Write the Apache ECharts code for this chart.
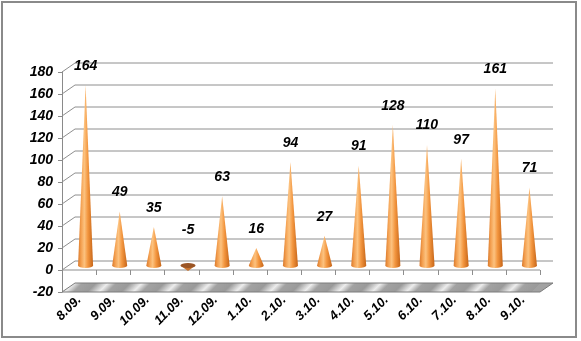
<!DOCTYPE html>
<html>
<head>
<meta charset="utf-8">
<script src="https://cdn.jsdelivr.net/npm/echarts@6/dist/echarts.min.js"></script>
<style>
  html, body { margin: 0; padding: 0; background: #ffffff; }
  #chart { width: 581px; height: 341px; }
</style>
</head>
<body>
<div id="chart"></div>
<script>
// Daily figures, one cone per date
const categories = ['8.09.', '9.09.', '10.09.', '11.09.', '12.09.', '1.10.', '2.10.',
                    '3.10.', '4.10.', '5.10.', '6.10.', '7.10.', '8.10.', '9.10.'];
const values = [164, 49, 35, -5, 63, 16, 94, 27, 91, 128, 110, 97, 161, 71];
const yTicks = [-20, 0, 20, 40, 60, 80, 100, 120, 140, 160, 180];

// Depth of the pseudo-3D box (back wall sits up and to the right of the front plane)
const DX = 13, DY = -9;
const LABEL_FONT = { fontStyle: 'italic', fontWeight: 'bold', fontFamily: 'Arial, "Liberation Sans", sans-serif' };

const chart = echarts.init(document.getElementById('chart'), null, { renderer: 'canvas' });

// Walls, floor and front baseline, one item per y tick
function renderWalls(params, api) {
  const v = api.value(1);
  const cs = params.coordSys;
  const x0 = cs.x, x1 = cs.x + cs.width;
  const y = api.coord([0, v])[1];
  const children = [];
  if (v === yTicks[0]) {
    // floor with diagonal sheen
    const stops = [];
    const n = categories.length;
    const step = 1 / n; // along the 45° gradient
    for (let k = 0; k <= n; k++) {
      const t = k * step;
      stops.push({ offset: Math.min(1, t), color: '#9a9a9a' });
      stops.push({ offset: Math.min(1, t + step * 0.35), color: '#ededed' });
      stops.push({ offset: Math.min(1, t + step * 0.6), color: '#a2a2a2' });
    }
    children.push({
      type: 'polygon',
      shape: { points: [[x0, y], [x1, y], [x1 + DX, y + DY], [x0 + DX, y + DY]] },
      style: {
        fill: {
          type: 'linear', global: true,
          x: x0, y: y + DY, x2: x0 + cs.width / 2, y2: y + DY + cs.width / 2,
          colorStops: stops
        },
        stroke: '#7c7c7c', lineWidth: 1
      }
    });
    return { type: 'group', children };
  }
  children.push({
    type: 'polyline',
    shape: { points: [[x0, y], [x0 + DX, y + DY], [x1 + DX, y + DY]] },
    style: { stroke: '#8e8e8e', lineWidth: 1, fill: null }
  });
  if (v === 0) {
    children.push({
      type: 'line',
      shape: { x1: x0, y1: y, x2: x1, y2: y },
      style: { stroke: '#8e8e8e', lineWidth: 1 }
    });
    const bw = cs.width / categories.length;
    for (let k = 1; k <= categories.length; k++) {
      const xx = Math.round(x0 + k * bw) + 0.5;
      children.push({
        type: 'line',
        shape: { x1: xx, y1: y, x2: xx, y2: y + 5 },
        style: { stroke: '#8e8e8e', lineWidth: 1 }
      });
    }
  }
  return { type: 'group', children };
}

// Cones standing on the zero plane, halfway into the box
function renderCone(params, api) {
  const i = api.value(0), v = api.value(1);
  const base = api.coord([i, 0]);
  const tip = api.coord([i, v]);
  const cx = base[0] + DX / 2;
  const by = base[1] + DY / 2;
  const ty = tip[1] + DY / 2;
  const r = 7.5, ry = 2.5;
  const children = [];
  if (v >= 0) {
    children.push({
      type: 'path',
      shape: {
        pathData: `M${cx - r} ${by} L${cx} ${ty} L${cx + r} ${by} A${r} ${ry} 0 0 1 ${cx - r} ${by} Z`
      },
      style: {
        fill: {
          type: 'linear', x: 0, y: 0, x2: 1, y2: 0,
          colorStops: [
            { offset: 0, color: '#d9782a' },
            { offset: 0.2, color: '#f4a050' },
            { offset: 0.42, color: '#fcc27f' },
            { offset: 0.65, color: '#f3963f' },
            { offset: 1, color: '#c66518' }
          ]
        }
      }
    });
    children.push({
      type: 'text',
      style: Object.assign({
        text: String(v), x: cx, y: ty - 19,
        align: 'center', verticalAlign: 'middle', fill: '#000', fontSize: 14
      }, LABEL_FONT)
    });
  } else {
    children.push({
      type: 'path',
      shape: {
        pathData: `M${cx - r} ${by} L${cx} ${ty} L${cx + r} ${by} Z`
      },
      style: { fill: '#c9742e' }
    });
    children.push({
      type: 'path',
      shape: {
        pathData: `M${cx - r} ${by} A${r} ${ry} 0 1 0 ${cx + r} ${by} A${r} ${ry} 0 1 0 ${cx - r} ${by} Z`
      },
      style: { fill: '#9a5424' }
    });
    children.push({
      type: 'text',
      style: Object.assign({
        text: String(v), x: cx, y: by - 35,
        align: 'center', verticalAlign: 'middle', fill: '#000', fontSize: 14
      }, LABEL_FONT)
    });
  }
  return { type: 'group', children };
}

chart.setOption({
  animation: false,
  backgroundColor: '#ffffff',
  graphic: [{
    type: 'rect',
    shape: { x: 2, y: 2, width: 574, height: 335 },
    style: { fill: null, stroke: '#8a8a8a', lineWidth: 2 },
    z: 0
  }],
  grid: { left: 62, right: 41, top: 72, bottom: 49 },
  xAxis: {
    type: 'category',
    data: categories,
    axisLine: { show: false },
    axisTick: { show: false },
    axisLabel: Object.assign({
      interval: 0, rotate: 45, margin: 6, color: '#000', fontSize: 13
    }, LABEL_FONT),
    splitLine: { show: false }
  },
  yAxis: {
    type: 'value',
    min: -20, max: 180, interval: 20,
    axisLine: { show: true, lineStyle: { color: '#8a8a8a', width: 1 } },
    axisTick: { show: true, length: 4, lineStyle: { color: '#8a8a8a' } },
    axisLabel: Object.assign({ color: '#000', fontSize: 14, margin: 9 }, LABEL_FONT),
    splitLine: { show: false }
  },
  series: [
    {
      type: 'custom',
      name: 'walls',
      renderItem: renderWalls,
      data: yTicks.map(v => [0, v]),
      clip: false,
      silent: true,
      z: 1
    },
    {
      type: 'custom',
      name: 'cones',
      renderItem: renderCone,
      data: values.map((v, i) => [i, v]),
      clip: false,
      z: 3
    }
  ]
});
</script>
</body>
</html>
